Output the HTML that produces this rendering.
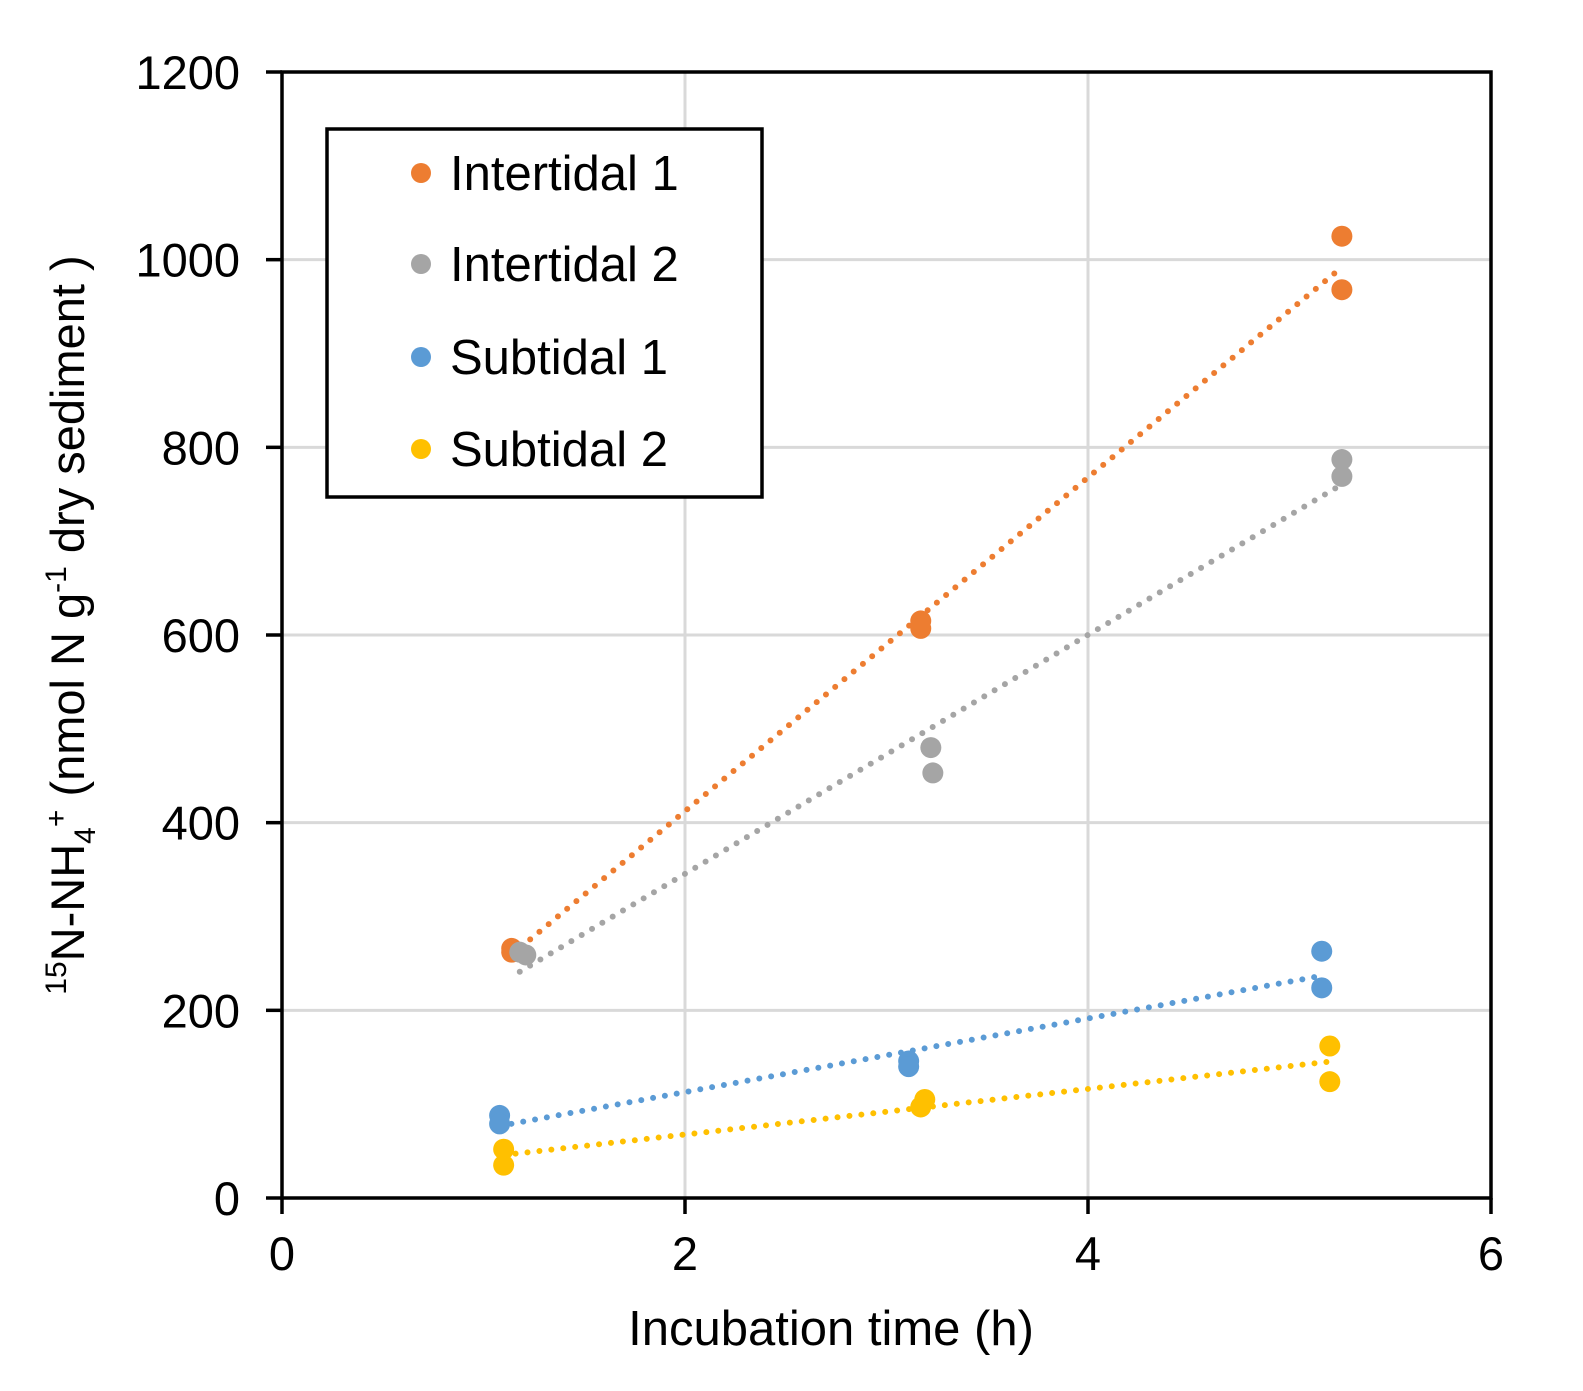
<!DOCTYPE html>
<html><head><meta charset="utf-8"><style>
html,body{margin:0;padding:0;background:#fff}
svg{display:block;font-family:"Liberation Sans",Arial,sans-serif}
</style></head><body>
<svg id="chart" width="1583" height="1391" viewBox="0 0 1583 1391">
<g id="grid"></g>
<g id="trends"></g>
<g id="axes"></g>
<g id="points"></g>
<text x="831" y="1345" font-size="49" text-anchor="middle">Incubation time (h)</text>
<text transform="translate(84,625) rotate(-90)" font-size="47" text-anchor="middle"><tspan font-size="30" dy="-18">15</tspan><tspan dy="18">N-NH</tspan><tspan font-size="30" dy="11">4</tspan><tspan font-size="30" dy="-29">+</tspan><tspan dy="18">  (nmol N g</tspan><tspan font-size="30" dy="-18">-1</tspan><tspan dy="18"> dry sediment )</tspan></text>
<g>
<rect x="327" y="129" width="435" height="368" fill="#fff" stroke="#000" stroke-width="3.5"/>
<g id="legend-entries"></g>
</g>
</svg>
<script>
const seriesNames=["Intertidal 1","Intertidal 2","Subtidal 1","Subtidal 2"];
const seriesColors=["#ed7d31","#a5a5a5","#5b9bd5","#ffc000"];
const int1X=[1.14,1.14,3.17,3.17,5.26,5.26];
const int1Y=[266,262,615,607,1025,968];
const int2X=[1.21,1.18,3.22,3.23,5.26,5.26];
const int2Y=[259,262,480,453,787,769];
const sub1X=[1.08,1.08,3.11,3.11,5.16,5.16];
const sub1Y=[88,79,146,140,263,224];
const sub2X=[1.10,1.10,3.19,3.17,5.20,5.20];
const sub2Y=[52,35,105,97,162,124];
const xTicks=[0,2,4,6];
const yTicks=[0,200,400,600,800,1000,1200];
const NS="http://www.w3.org/2000/svg";
const X0=282,X1=1491,Y0=1198,Y1=72;
const sx=v=>X0+(v-0)/6*(X1-X0);
const sy=v=>Y0-(v-0)/1200*(Y0-Y1);
function mk(tag,attrs,parent){const e=document.createElementNS(NS,tag);for(const k in attrs)e.setAttribute(k,attrs[k]);parent.appendChild(e);return e;}
const grid=document.getElementById('grid'),axes=document.getElementById('axes'),trends=document.getElementById('trends'),pts=document.getElementById('points'),leg=document.getElementById('legend-entries');
yTicks.forEach(t=>{
  if(t>0){const g=mk('line',{x1:X0,x2:X1,y1:sy(t),y2:sy(t),stroke:'#d9d9d9','stroke-width':3},grid);
  
  }
  const tk=mk('line',{x1:X0-16,x2:X0,y1:sy(t),y2:sy(t),stroke:'#000','stroke-width':3.5},axes);
  
  
  const l=mk('text',{x:240,y:sy(t)+17,'font-size':47,'text-anchor':'end'},axes);l.textContent=t;
  
  
});
xTicks.forEach(t=>{
  if(t>0){const g=mk('line',{x1:sx(t),x2:sx(t),y1:Y0,y2:Y1,stroke:'#d9d9d9','stroke-width':3},grid);
  
  }
  const tk=mk('line',{x1:sx(t),x2:sx(t),y1:Y0,y2:Y0+16,stroke:'#000','stroke-width':3.5},axes);
  
  
  const l=mk('text',{x:sx(t),y:1270,'font-size':47,'text-anchor':'middle'},axes);l.textContent=t;
  
  
});
const fr=mk('rect',{x:X0,y:Y1,width:X1-X0,height:Y0-Y1,fill:'none',stroke:'#000','stroke-width':3.5},axes);


const allX=[int1X,int2X,sub1X,sub2X],allY=[int1Y,int2Y,sub1Y,sub2Y];
allX.forEach((xs,i)=>{
  const ys=allY[i],n=xs.length;
  const mx=xs.reduce((a,b)=>a+b)/n,my=ys.reduce((a,b)=>a+b)/n;
  let num=0,den=0;xs.forEach((x,j)=>{num+=(x-mx)*(ys[j]-my);den+=(x-mx)*(x-mx);});
  const b=num/den,a=my-b*mx,xa=Math.min(...xs),xb=Math.max(...xs);
  const tl=mk('line',{x1:sx(xa),y1:sy(a+b*xa),x2:sx(xb),y2:sy(a+b*xb),stroke:seriesColors[i],'stroke-width':6,'stroke-linecap':'round','stroke-dasharray':'0 12'},trends);
  
  
  xs.forEach((x,j)=>{
    const c=mk('circle',{cx:sx(x),cy:sy(ys[j]),r:10.5,fill:seriesColors[i]},pts);
    
    
  });
  const ly=[173,264,357,449][i];
  const lc=mk('circle',{cx:421,cy:ly,r:10,fill:seriesColors[i]},leg);
  
  
  const lt=mk('text',{x:450,y:ly+17,'font-size':49},leg);lt.textContent=seriesNames[i];
  
  
});
</script>
</body></html>
